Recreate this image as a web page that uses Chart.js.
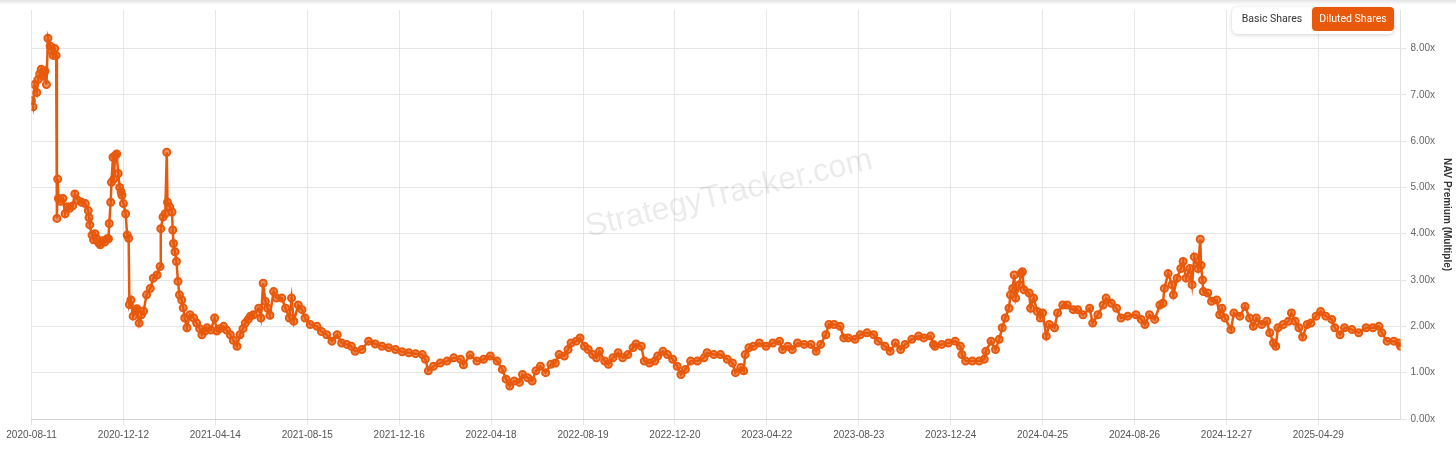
<!DOCTYPE html>
<html>
<head>
<meta charset="utf-8">
<script src="https://cdn.jsdelivr.net/npm/chart.js@4.4.0/dist/chart.umd.min.js"></script>
<style>
  html, body { margin: 0; padding: 0; background: #fff; }
  #wrap { position: relative; width: 1456px; height: 453px; overflow: hidden; }
  #topshade { position: absolute; left: 0; top: 0; width: 1456px; height: 5px; background: linear-gradient(#e4e4e4, #fff); }
  #toggle { position: absolute; left: 1232px; top: 7px; width: 162px; height: 27px; background: #fff; border-radius: 6px; box-shadow: 0 1px 4px rgba(0,0,0,0.18); font-family: Roboto, "Liberation Sans", sans-serif; font-size: 10.5px; }
  #toggle .basic { position: absolute; left: 0; top: 0; width: 80px; height: 24px; line-height: 24px; text-align: center; color: #333; }
  #toggle .diluted { position: absolute; left: 80px; top: 0; width: 82px; height: 24px; line-height: 24px; text-align: center; color: #fff; background: #e8590c; border-radius: 4px; }
</style>
</head>
<body>
<div id="wrap">
  <canvas id="myChart" width="1456" height="453"></canvas>
  <div id="topshade"></div>
  <div id="toggle"><div class="basic">Basic Shares</div><div class="diluted">Diluted Shares</div></div>
</div>
<script>
// days since 2020-08-11
const startDate = Date.UTC(2020, 7, 11)
const tickStepDays = 123
const lastDay = 1832

const dayIndex = [
  0, 2, 4, 7, 9, 11, 13, 16, 18, 20, 22, 25, 27, 29, 31, 33, 34, 35, 36, 39, 42, 45, 48, 51, 55, 58, 62, 67, 72, 76, 77, 78,
  81, 83, 85, 87, 90, 92, 95, 98, 101, 103, 104, 106, 107, 109, 110, 112, 114, 116, 118, 120, 121, 123, 126, 128, 130,
  131, 133, 136, 139, 141, 144, 147, 150, 154, 159, 163, 168, 172, 173, 176, 179, 181, 182, 185, 188, 189, 190, 192, 194,
  196, 198, 201, 203, 205, 208, 212, 217, 221, 225, 228, 232, 235, 240, 245, 248, 252, 257, 261, 266, 270, 275, 279, 283,
  286, 290, 293,
  297, 304, 307, 310, 313, 316, 319, 324, 328, 335, 340, 345, 348, 351, 357, 362, 366, 373, 382, 388, 395, 402, 409, 415,
  422, 428, 433, 442, 451, 460, 469, 478, 487, 496, 505, 514, 523, 527, 531, 538, 547, 556, 565, 574, 578, 587,
  596, 605, 614, 623, 630, 635, 640, 646, 653, 657, 664, 670, 675, 681, 688, 695, 701, 706, 713, 718, 722, 729, 734, 740,
  745, 751, 756, 760, 767, 772, 778, 785, 791, 798, 805, 809, 816, 820, 827, 834, 838, 845, 851, 858, 864, 869, 875, 882, 891,
  900, 904, 913, 922, 931, 938, 942, 949, 953, 955, 960, 966, 974, 983, 992, 1001, 1005, 1012, 1018, 1025, 1034, 1043,
  1050, 1056, 1063, 1067, 1074, 1082, 1087, 1093, 1102, 1109, 1118, 1127, 1133, 1142, 1149, 1156, 1163, 1169, 1178,
  1187, 1194, 1203, 1207,
  1209, 1218, 1227, 1236, 1243, 1245, 1250, 1259, 1268, 1275, 1277, 1284, 1290, 1295, 1299, 1303, 1308, 1310, 1313, 1315,
  1317, 1322, 1324, 1326, 1328, 1335, 1337, 1341, 1346, 1350, 1353, 1358, 1362, 1369, 1373, 1380, 1386, 1394, 1400, 1407,
  1416, 1420, 1427, 1434, 1438, 1445, 1452, 1458, 1467, 1478, 1485, 1490, 1496, 1503, 1510,
  1514, 1516, 1521, 1526, 1528, 1533, 1538, 1541, 1545, 1550, 1553, 1556, 1561, 1564, 1565, 1567, 1568, 1574, 1579, 1586,
  1590, 1593, 1597, 1605, 1609, 1617, 1624, 1630, 1635, 1639, 1646, 1653, 1657, 1662, 1665, 1668, 1675, 1682, 1686, 1691,
  1696, 1701, 1707, 1712, 1719, 1725, 1732, 1740, 1744, 1751, 1757, 1767, 1776, 1786, 1795, 1803, 1807, 1814, 1823, 1830, 1832
]

const navPremium = [
  6.87, 6.74, 7.22, 7.05, 7.33, 7.45, 7.55, 7.40, 7.51, 7.22, 8.22, 8.05, 7.95, 7.85, 8.00, 7.85, 4.33, 5.18, 4.76, 4.70, 4.76, 4.43, 4.58, 4.55, 4.60, 4.86, 4.72, 4.68, 4.65, 4.50, 4.35, 4.19,
  3.97, 3.87, 4.00, 3.90, 3.80, 3.76, 3.85, 3.82, 3.89, 3.89, 4.22, 4.68, 5.11, 5.65, 5.18, 5.69, 5.72, 5.30, 5.00, 4.90, 4.83, 4.65, 4.43, 3.97, 3.90,
  2.47, 2.57, 2.22, 2.35, 2.38, 2.07, 2.25, 2.33, 2.68, 2.82, 3.04, 3.11, 3.29, 4.11, 4.36, 4.43, 5.76, 4.68, 4.58, 4.47, 4.08, 3.79, 3.61, 3.40,
  2.97, 2.68, 2.57, 2.40, 2.18, 1.97, 2.25, 2.18, 2.07, 1.95, 1.82, 1.90, 1.97, 1.92, 2.18, 1.90, 1.95, 2.00, 1.92, 1.82, 1.70, 1.57, 1.82, 1.95,
  2.07, 2.15, 2.22,
  2.25, 2.39, 2.18, 2.93, 2.54, 2.39, 2.24, 2.75, 2.61, 2.61, 2.39, 2.18, 2.61, 2.11, 2.46, 2.36, 2.18, 2.04, 2.00, 1.89, 1.82, 1.68, 1.82, 1.64,
  1.61, 1.57, 1.46, 1.50, 1.68, 1.62, 1.57, 1.54, 1.50, 1.45, 1.43, 1.41, 1.39, 1.29, 1.04, 1.14, 1.21, 1.25, 1.32, 1.29, 1.17, 1.38,
  1.25, 1.29, 1.36, 1.25, 1.07, 0.86, 0.71, 0.82, 0.79, 0.96, 0.89, 0.82, 1.04, 1.14, 1.00, 1.18, 1.21, 1.39, 1.36, 1.50, 1.64, 1.68, 1.75, 1.57,
  1.50, 1.39, 1.32, 1.46, 1.25, 1.18, 1.32, 1.43, 1.32, 1.39, 1.54, 1.62, 1.57, 1.25, 1.21, 1.25, 1.36, 1.46, 1.39, 1.29, 1.14, 0.96, 1.07, 1.25, 1.25,
  1.32, 1.43, 1.39, 1.39, 1.29, 1.21, 1.00, 1.11, 1.04, 1.39, 1.54, 1.57, 1.64, 1.57, 1.64, 1.68, 1.50, 1.57, 1.50, 1.64, 1.61, 1.61,
  1.46, 1.61, 1.82, 2.04, 2.04, 2.00, 1.75, 1.75, 1.72, 1.82, 1.86, 1.82, 1.68, 1.57, 1.46, 1.64, 1.50, 1.61, 1.72,
  1.79, 1.75, 1.79, 1.61,
  1.57, 1.61, 1.64, 1.68, 1.57, 1.39, 1.25, 1.25, 1.25, 1.29, 1.46, 1.68, 1.50, 1.72, 1.97, 2.18, 2.39, 2.68, 2.82, 3.11,
  2.61, 2.90, 3.14, 3.18, 2.79, 2.72, 2.39, 2.61, 2.32, 2.18, 2.29, 1.79, 2.04, 1.97, 2.29, 2.46, 2.46, 2.36, 2.36, 2.25,
  2.39, 2.07, 2.25, 2.46, 2.61, 2.50, 2.39, 2.18, 2.22, 2.25, 2.15, 2.04, 2.25, 2.15, 2.46,
  2.50, 2.82, 3.14, 2.90, 2.68, 3.04, 3.25, 3.40, 3.04, 3.25, 2.90, 3.50, 3.25, 3.88, 3.32, 3.00, 2.75, 2.72, 2.54, 2.57,
  2.25, 2.39, 2.18, 1.93, 2.29, 2.22, 2.43, 2.18, 2.00, 2.18, 2.04, 2.11, 1.86, 1.64, 1.57, 1.97, 2.04, 2.11, 2.29, 2.11,
  1.97, 1.77, 2.04, 2.07, 2.22, 2.32, 2.22, 2.15, 1.97, 1.82, 1.97, 1.93, 1.86, 1.97, 1.97, 2.00, 1.86, 1.68, 1.68, 1.64, 1.57
]

const yMax = 8.83
const lineColor = '#e8590c'

function FormatDate(day) {
  return new Date(startDate + day * 86400000).toISOString().slice(0, 10)
}

const points = dayIndex.map((d, i) => ({ x: d, y: navPremium[i] }))

// watermark behind the line
const watermark = {
  id: 'watermark',
  beforeDatasetsDraw(chart) {
    const { ctx, chartArea } = chart
    ctx.save()
    ctx.translate((chartArea.left + chartArea.right) / 2 + 13, chartArea.top + chartArea.height * 0.45)
    ctx.rotate(-13.5 * Math.PI / 180)
    ctx.font = '32px "Liberation Sans", Arial, sans-serif'
    ctx.fillStyle = 'rgba(0,0,0,0.08)'
    ctx.textAlign = 'center'
    ctx.textBaseline = 'middle'
    ctx.fillText('StrategyTracker.com', 0, 0)
    ctx.restore()
  }
}

const data = {
  datasets: [
    {
      label: 'NAV Premium',
      data: points,
      borderColor: lineColor,
      backgroundColor: lineColor,
      borderWidth: 2.5,
      pointRadius: 3.5,
      pointBorderWidth: 2,
      pointBorderColor: lineColor,
      pointBackgroundColor: 'rgba(232,89,12,0.65)',
      tension: 0,
    },
  ],
}

const config = {
  type: 'line',
  data,
  options: {
    responsive: false,
    animation: false,
    devicePixelRatio: 1,
    layout: { padding: { top: 1.5, left: 31.5, right: 1, bottom: 8 } },
    plugins: { legend: { display: false }, tooltip: { enabled: false } },
    scales: {
      x: {
        type: 'linear',
        min: 0,
        max: lastDay,
        afterBuildTicks: (scale) => {
          const ticks = []
          for (let d = 0; d < lastDay; d += tickStepDays) ticks.push({ value: d })
          scale.ticks = ticks
        },
        ticks: {
          autoSkip: false,
          maxRotation: 0,
          padding: 4,
          color: '#555',
          font: { family: '"Liberation Sans", Arial, sans-serif', size: 10 },
          callback: (v) => FormatDate(v),
        },
        grid: { color: '#e6e6e6', tickLength: 6 },
        border: { color: '#d2d2d2' },
      },
      y: {
        position: 'right',
        min: 0,
        max: yMax,
        ticks: {
          stepSize: 1,
          includeBounds: false,
          padding: 4,
          color: '#666',
          font: { family: '"Liberation Sans", Arial, sans-serif', size: 10 },
          callback: (v) => v.toFixed(2) + 'x',
        },
        grid: { color: '#e6e6e6', tickLength: 6 },
        border: { color: '#e0e0e0' },
        title: {
          display: true,
          text: 'NAV Premium (Multiple)',
          color: '#333',
          padding: { top: 2, bottom: 2 },
          font: { family: '"Liberation Sans", Arial, sans-serif', size: 10, weight: 'bold' },
        },
      },
    },
  },
  plugins: [watermark],
}

var myChart = new Chart(document.getElementById('myChart'), config)
</script>
</body>
</html>
